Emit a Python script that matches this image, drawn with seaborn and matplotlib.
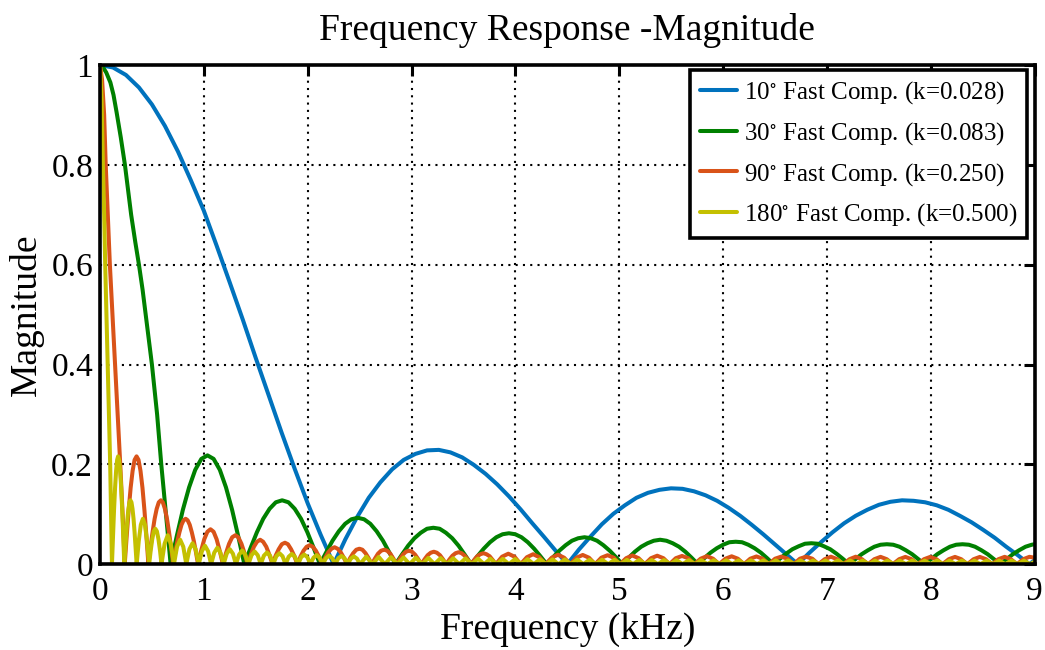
import numpy as np
import pandas as pd
import matplotlib
matplotlib.use("Agg")
import matplotlib.pyplot as plt
import seaborn as sns

# curves, (frequency kHz, magnitude)
blue_points = [
    (0.0, 1.0), (0.125, 0.995), (0.25, 0.98), (0.375, 0.955), (0.5, 0.921), (0.625, 0.878),
    (0.75, 0.827), (0.875, 0.769), (1.0, 0.708), (1.125, 0.637), (1.25, 0.564), (1.375, 0.490),
    (1.5, 0.413), (1.625, 0.338), (1.75, 0.263), (1.875, 0.191), (2.0, 0.122), (2.125, 0.059),
    (2.25, 0.0),
    (2.363, 0.050), (2.475, 0.094), (2.588, 0.133), (2.70, 0.164), (2.813, 0.190), (2.925, 0.209),
    (3.038, 0.221), (3.15, 0.228), (3.263, 0.229), (3.375, 0.224), (3.488, 0.214), (3.60, 0.199),
    (3.713, 0.181), (3.825, 0.160), (3.938, 0.136), (4.05, 0.110), (4.163, 0.082), (4.275, 0.055),
    (4.388, 0.027), (4.50, 0.0),
    (4.611, 0.029), (4.722, 0.055), (4.833, 0.080), (4.944, 0.101), (5.055, 0.118), (5.166, 0.133),
    (5.277, 0.143), (5.388, 0.149), (5.499, 0.152), (5.61, 0.151), (5.721, 0.146), (5.832, 0.138),
    (5.943, 0.127), (6.054, 0.113), (6.165, 0.097), (6.276, 0.079), (6.387, 0.060), (6.498, 0.040),
    (6.609, 0.020), (6.72, 0.0),
    (6.832, 0.023), (6.943, 0.044), (7.055, 0.064), (7.166, 0.082), (7.278, 0.097), (7.389, 0.109),
    (7.501, 0.119), (7.612, 0.125), (7.724, 0.128), (7.835, 0.127), (7.947, 0.124), (8.058, 0.118),
    (8.170, 0.109), (8.281, 0.097), (8.393, 0.084), (8.504, 0.069), (8.616, 0.053), (8.727, 0.035),
    (8.839, 0.018), (8.95, 0.0), (9.0, 0.008),
]

green_points = [
    (0.0, 1.0), (0.03, 0.995), (0.06, 0.985), (0.1, 0.965), (0.13, 0.94), (0.16, 0.905),
    (0.2, 0.855), (0.24, 0.8), (0.27, 0.75), (0.30, 0.70), (0.34, 0.645), (0.375, 0.6),
    (0.41, 0.55), (0.44, 0.5), (0.47, 0.45), (0.50, 0.4), (0.525, 0.35), (0.55, 0.3),
    (0.57, 0.25), (0.59, 0.2), (0.613, 0.15), (0.635, 0.1), (0.658, 0.05), (0.68, 0.0),
    (0.739, 0.056), (0.798, 0.109), (0.858, 0.154), (0.917, 0.189), (0.976, 0.211), (1.035, 0.218),
    (1.094, 0.211), (1.154, 0.189), (1.213, 0.154), (1.272, 0.109), (1.331, 0.056), (1.39, 0.0),
    (1.451, 0.033), (1.511, 0.064), (1.572, 0.091), (1.633, 0.111), (1.693, 0.124), (1.754, 0.128),
    (1.815, 0.124), (1.875, 0.111), (1.936, 0.091), (1.997, 0.064), (2.057, 0.033), (2.118, 0.0),
    (2.179, 0.024), (2.239, 0.047), (2.300, 0.066), (2.361, 0.081), (2.421, 0.090), (2.482, 0.093),
    (2.543, 0.090), (2.603, 0.081), (2.664, 0.066), (2.725, 0.047), (2.785, 0.024), (2.846, 0.0),
    (2.907, 0.019), (2.967, 0.037), (3.028, 0.052), (3.089, 0.063), (3.149, 0.071), (3.21, 0.073),
    (3.271, 0.071), (3.331, 0.063), (3.392, 0.052), (3.453, 0.037), (3.513, 0.019), (3.574, 0.0),
    (3.635, 0.016), (3.695, 0.031), (3.756, 0.044), (3.817, 0.054), (3.877, 0.060), (3.938, 0.062),
    (3.999, 0.060), (4.059, 0.054), (4.120, 0.044), (4.181, 0.031), (4.241, 0.016), (4.302, 0.0),
    (4.363, 0.014), (4.423, 0.027), (4.484, 0.038), (4.545, 0.047), (4.605, 0.052), (4.666, 0.054),
    (4.727, 0.052), (4.787, 0.047), (4.848, 0.038), (4.909, 0.027), (4.969, 0.014), (5.03, 0.0),
    (5.091, 0.013), (5.151, 0.025), (5.212, 0.035), (5.273, 0.042), (5.333, 0.047), (5.394, 0.049),
    (5.455, 0.047), (5.515, 0.042), (5.576, 0.035), (5.637, 0.025), (5.697, 0.013), (5.758, 0.0),
    (5.819, 0.012), (5.879, 0.023), (5.940, 0.032), (6.001, 0.039), (6.061, 0.044), (6.122, 0.045),
    (6.183, 0.044), (6.243, 0.039), (6.304, 0.032), (6.365, 0.023), (6.425, 0.012), (6.486, 0.0),
    (6.547, 0.011), (6.607, 0.021), (6.668, 0.030), (6.729, 0.036), (6.789, 0.041), (6.85, 0.042),
    (6.911, 0.041), (6.971, 0.036), (7.032, 0.030), (7.093, 0.021), (7.153, 0.011), (7.214, 0.0),
    (7.275, 0.010), (7.335, 0.020), (7.396, 0.028), (7.457, 0.035), (7.517, 0.039), (7.578, 0.040),
    (7.639, 0.039), (7.699, 0.035), (7.760, 0.028), (7.821, 0.020), (7.881, 0.010), (7.942, 0.0),
    (8.003, 0.010), (8.063, 0.020), (8.124, 0.028), (8.185, 0.035), (8.245, 0.039), (8.306, 0.040),
    (8.367, 0.039), (8.427, 0.035), (8.488, 0.028), (8.549, 0.020), (8.609, 0.010), (8.67, 0.0),
    (8.731, 0.010), (8.791, 0.020), (8.852, 0.028), (8.913, 0.035), (8.973, 0.039), (9.0, 0.040),
]

orange_points = [
    (0.0, 1.0), (0.02, 0.97), (0.04, 0.90), (0.055, 0.8), (0.075, 0.7), (0.095, 0.6),
    (0.12, 0.5), (0.145, 0.4), (0.17, 0.3), (0.195, 0.2), (0.218, 0.1),
    (0.238, 0.0), (0.257, 0.056), (0.276, 0.108), (0.295, 0.153), (0.314, 0.187), (0.333, 0.209),
    (0.352, 0.216), (0.371, 0.209), (0.390, 0.187), (0.409, 0.153), (0.428, 0.108), (0.447, 0.056),
    (0.466, 0.0), (0.486, 0.033), (0.506, 0.064), (0.526, 0.091), (0.546, 0.111), (0.566, 0.124),
    (0.586, 0.128), (0.605, 0.124), (0.625, 0.111), (0.645, 0.091), (0.665, 0.064), (0.685, 0.033),
    (0.705, 0.0), (0.725, 0.024), (0.745, 0.046), (0.765, 0.064), (0.785, 0.079), (0.805, 0.088),
    (0.825, 0.091), (0.844, 0.088), (0.864, 0.079), (0.884, 0.064), (0.904, 0.046), (0.924, 0.024),
    (0.944, 0.0), (0.974, 0.027), (1.004, 0.050), (1.034, 0.065), (1.064, 0.070), (1.094, 0.065),
    (1.123, 0.050), (1.153, 0.027),
    (1.183, 0.0), (1.213, 0.022), (1.243, 0.041), (1.273, 0.054), (1.303, 0.058), (1.332, 0.054),
    (1.362, 0.041), (1.392, 0.022),
    (1.422, 0.0), (1.452, 0.019), (1.482, 0.035), (1.512, 0.045), (1.542, 0.049), (1.571, 0.045),
    (1.601, 0.035), (1.631, 0.019),
    (1.661, 0.0), (1.691, 0.017), (1.721, 0.030), (1.751, 0.040), (1.781, 0.043), (1.810, 0.040),
    (1.840, 0.030), (1.870, 0.017),
    (1.900, 0.0), (1.930, 0.015), (1.960, 0.027), (1.990, 0.035), (2.020, 0.038), (2.049, 0.035),
    (2.079, 0.027), (2.109, 0.015),
    (2.139, 0.0), (2.169, 0.013), (2.199, 0.024), (2.229, 0.031), (2.259, 0.034), (2.288, 0.031),
    (2.318, 0.024), (2.348, 0.013),
    (2.378, 0.0), (2.408, 0.012), (2.438, 0.022), (2.468, 0.029), (2.498, 0.031), (2.527, 0.029),
    (2.557, 0.022), (2.587, 0.012),
    (2.617, 0.0), (2.647, 0.011), (2.677, 0.021), (2.707, 0.027), (2.737, 0.029), (2.766, 0.027),
    (2.796, 0.021), (2.826, 0.011),
    (2.856, 0.0), (2.886, 0.010), (2.916, 0.019), (2.946, 0.025), (2.976, 0.027), (3.005, 0.025),
    (3.035, 0.019), (3.065, 0.010),
    (3.095, 0.0), (3.125, 0.0096), (3.155, 0.018), (3.185, 0.023), (3.215, 0.025), (3.244, 0.023),
    (3.274, 0.018), (3.304, 0.0096),
    (3.334, 0.0), (3.364, 0.0092), (3.394, 0.017), (3.424, 0.022), (3.454, 0.024), (3.483, 0.022),
    (3.513, 0.017), (3.543, 0.0092),
    (3.573, 0.0), (3.603, 0.0084), (3.633, 0.016), (3.663, 0.020), (3.693, 0.022), (3.722, 0.020),
    (3.752, 0.016), (3.782, 0.0084),
    (3.812, 0.0), (3.872, 0.015), (3.932, 0.021), (3.992, 0.015),
    (4.051, 0.0), (4.111, 0.014), (4.171, 0.020), (4.231, 0.014),
    (4.290, 0.0), (4.350, 0.013), (4.410, 0.019), (4.470, 0.013),
    (4.529, 0.0), (4.589, 0.013), (4.649, 0.0185), (4.709, 0.013),
    (4.768, 0.0), (4.828, 0.013), (4.888, 0.018), (4.948, 0.013),
    (5.007, 0.0), (5.067, 0.012), (5.127, 0.0175), (5.187, 0.012),
    (5.246, 0.0), (5.306, 0.012), (5.366, 0.017), (5.426, 0.012),
    (5.485, 0.0), (5.545, 0.012), (5.605, 0.0165), (5.665, 0.012),
    (5.724, 0.0), (5.784, 0.011), (5.844, 0.016), (5.904, 0.011),
    (5.963, 0.0), (6.023, 0.011), (6.083, 0.0158), (6.143, 0.011),
    (6.202, 0.0), (6.262, 0.011), (6.322, 0.0155), (6.382, 0.011),
    (6.441, 0.0), (6.501, 0.011), (6.561, 0.0152), (6.621, 0.011),
    (6.680, 0.0), (6.740, 0.011), (6.800, 0.015), (6.860, 0.011),
    (6.919, 0.0), (6.979, 0.010), (7.039, 0.015), (7.099, 0.010),
    (7.158, 0.0), (7.218, 0.010), (7.278, 0.015), (7.338, 0.010),
    (7.397, 0.0), (7.457, 0.010), (7.517, 0.0147), (7.577, 0.010),
    (7.636, 0.0), (7.696, 0.010), (7.756, 0.0146), (7.816, 0.010),
    (7.875, 0.0), (7.935, 0.010), (7.995, 0.0146), (8.055, 0.010),
    (8.114, 0.0), (8.174, 0.010), (8.234, 0.0146), (8.294, 0.010),
    (8.353, 0.0), (8.413, 0.010), (8.473, 0.0146), (8.533, 0.010),
    (8.592, 0.0), (8.652, 0.010), (8.712, 0.0147), (8.772, 0.010),
    (8.831, 0.0), (8.891, 0.010), (8.951, 0.0148), (9.0, 0.013),
]

yellow_points = [
    (0.0, 1.0), (0.015, 0.93), (0.028, 0.8), (0.04, 0.7), (0.05, 0.6), (0.062, 0.5),
    (0.074, 0.4), (0.086, 0.3), (0.098, 0.2), (0.107, 0.1),
    (0.115, 0.0), (0.125, 0.056), (0.135, 0.108), (0.145, 0.153), (0.155, 0.187), (0.165, 0.209),
    (0.174, 0.216), (0.184, 0.209), (0.194, 0.187), (0.204, 0.153), (0.214, 0.108), (0.224, 0.056),
    (0.234, 0.0), (0.244, 0.033), (0.254, 0.064), (0.264, 0.091), (0.274, 0.111), (0.284, 0.124),
    (0.293, 0.128), (0.303, 0.124), (0.313, 0.111), (0.323, 0.091), (0.333, 0.064), (0.343, 0.033),
    (0.353, 0.0), (0.373, 0.046), (0.393, 0.079), (0.413, 0.091), (0.433, 0.079), (0.453, 0.046),
    (0.473, 0.0), (0.488, 0.027), (0.503, 0.050), (0.518, 0.066), (0.533, 0.071), (0.548, 0.066),
    (0.563, 0.050), (0.578, 0.027),
    (0.592, 0.0), (0.622, 0.041), (0.652, 0.058), (0.682, 0.041),
    (0.712, 0.0), (0.742, 0.035), (0.772, 0.049), (0.802, 0.035),
    (0.831, 0.0), (0.861, 0.030), (0.891, 0.042), (0.921, 0.030),
    (0.951, 0.0), (0.981, 0.026), (1.011, 0.037), (1.041, 0.026),
    (1.070, 0.0), (1.100, 0.023), (1.130, 0.033), (1.160, 0.023),
    (1.190, 0.0), (1.220, 0.021), (1.250, 0.030), (1.280, 0.021),
    (1.309, 0.0), (1.339, 0.019), (1.369, 0.0275), (1.399, 0.019),
    (1.429, 0.0), (1.459, 0.018), (1.489, 0.0255), (1.519, 0.018),
    (1.548, 0.0), (1.578, 0.017), (1.608, 0.0235), (1.638, 0.017),
    (1.668, 0.0), (1.698, 0.016), (1.728, 0.022), (1.758, 0.016),
    (1.787, 0.0), (1.817, 0.015), (1.847, 0.0205), (1.877, 0.015),
    (1.907, 0.0), (1.937, 0.014), (1.967, 0.0193), (1.997, 0.014),
    (2.026, 0.0), (2.056, 0.013), (2.086, 0.0182), (2.116, 0.013),
    (2.146, 0.0), (2.176, 0.012), (2.206, 0.0173), (2.236, 0.012),
    (2.265, 0.0), (2.295, 0.012), (2.325, 0.0165), (2.355, 0.012),
    (2.385, 0.0), (2.415, 0.011), (2.445, 0.0157), (2.475, 0.011),
    (2.504, 0.0), (2.564, 0.0151), (2.624, 0.0), (2.684, 0.0145),
    (2.743, 0.0), (2.803, 0.0140), (2.863, 0.0), (2.923, 0.0135),
    (2.982, 0.0), (3.042, 0.0130), (3.102, 0.0), (3.162, 0.0126),
    (3.221, 0.0), (3.281, 0.0122), (3.341, 0.0), (3.401, 0.0118),
    (3.460, 0.0), (3.520, 0.0115), (3.580, 0.0), (3.640, 0.0112),
    (3.699, 0.0), (3.759, 0.0109), (3.819, 0.0), (3.879, 0.0106),
    (3.938, 0.0), (3.998, 0.0103), (4.058, 0.0), (4.118, 0.0101),
    (4.177, 0.0), (4.237, 0.0099), (4.297, 0.0), (4.357, 0.0097),
    (4.416, 0.0), (4.476, 0.0095), (4.536, 0.0), (4.596, 0.0093),
    (4.655, 0.0), (4.715, 0.0091), (4.775, 0.0), (4.835, 0.0090),
    (4.894, 0.0), (4.954, 0.0088), (5.014, 0.0), (5.074, 0.0087),
    (5.133, 0.0), (5.193, 0.0085), (5.253, 0.0), (5.313, 0.0084),
    (5.372, 0.0), (5.432, 0.0083), (5.492, 0.0), (5.552, 0.0082),
    (5.611, 0.0), (5.671, 0.0081), (5.731, 0.0), (5.791, 0.0080),
    (5.850, 0.0), (5.910, 0.0079), (5.970, 0.0), (6.030, 0.0078),
    (6.089, 0.0), (6.149, 0.0077), (6.209, 0.0), (6.269, 0.0077),
    (6.328, 0.0), (6.388, 0.0076), (6.448, 0.0), (6.508, 0.0076),
    (6.567, 0.0), (6.627, 0.0075), (6.687, 0.0), (6.747, 0.0075),
    (6.806, 0.0), (6.866, 0.0074), (6.926, 0.0), (6.986, 0.0074),
    (7.045, 0.0), (7.105, 0.0073), (7.165, 0.0), (7.225, 0.0073),
    (7.284, 0.0), (7.344, 0.0073), (7.404, 0.0), (7.464, 0.0072),
    (7.523, 0.0), (7.583, 0.0072), (7.643, 0.0), (7.703, 0.0072),
    (7.762, 0.0), (7.822, 0.0072), (7.882, 0.0), (7.942, 0.0072),
    (8.001, 0.0), (8.061, 0.0072), (8.121, 0.0), (8.181, 0.0072),
    (8.240, 0.0), (8.300, 0.0072), (8.360, 0.0), (8.420, 0.0072),
    (8.479, 0.0), (8.539, 0.0072), (8.599, 0.0), (8.659, 0.0072),
    (8.718, 0.0), (8.778, 0.0072), (8.838, 0.0), (8.898, 0.0072),
    (8.957, 0.0), (9.0, 0.005),
]

series_names = [
    "10$^{\\circ}$ Fast Comp. (k=0.028)",
    "30$^{\\circ}$ Fast Comp. (k=0.083)",
    "90$^{\\circ}$ Fast Comp. (k=0.250)",
    "180$^{\\circ}$ Fast Comp. (k=0.500)",
]
series_points = [blue_points, green_points, orange_points, yellow_points]
colors = ["#0072bd", "#008000", "#d95319", "#c4c000"]

x_ticks = [0, 1, 2, 3, 4, 5, 6, 7, 8, 9]
y_ticks = [0, 0.2, 0.4, 0.6, 0.8, 1.0]
y_tick_labels = ["0", "0.2", "0.4", "0.6", "0.8", "1"]

rows = []
for name, pts in zip(series_names, series_points):
    for f, m in pts:
        rows.append({"series": name, "freq": f, "mag": m})
df = pd.DataFrame(rows)

sns.set_theme(style="white")
plt.rcParams["font.family"] = ["Liberation Serif", "DejaVu Serif"]
plt.rcParams["mathtext.fontset"] = "stix"
plt.rcParams["text.color"] = "black"
plt.rcParams["axes.labelcolor"] = "black"

fig = plt.figure(figsize=(10.45, 6.5), dpi=100)
ax = fig.add_axes([0.0957, 0.132, 0.8943, 0.768])

sns.lineplot(data=df, x="freq", y="mag", hue="series", hue_order=series_names,
             palette=colors, estimator=None, errorbar=None, sort=False,
             linewidth=2.9, ax=ax)

ax.set_xlim(0, 9)
ax.set_ylim(0, 1)
ax.set_xticks(x_ticks)
ax.set_xticklabels([str(t) for t in x_ticks])
ax.set_yticks(y_ticks)
ax.set_yticklabels(y_tick_labels)
ax.tick_params(direction="in", top=True, right=True, length=8, width=2.2,
               labelsize=24, colors="black")
ax.tick_params(axis="x", pad=9)
ax.tick_params(axis="y", pad=5)
for sp in ax.spines.values():
    sp.set_visible(True)
    sp.set_color("black")
    sp.set_linewidth(2.6)

ax.grid(True, color="black", linestyle=(0, (1, 2.5)), linewidth=1.5)
ax.set_axisbelow(True)

ax.set_title("Frequency Response -Magnitude", fontsize=27, pad=18, color="black")
ax.set_xlabel("Frequency (kHz)", fontsize=27, labelpad=4)
ax.set_ylabel("Magnitude", fontsize=27, labelpad=5)

old = ax.get_legend()
handles = old.legend_handles
labels = [t.get_text() for t in old.texts]
old.remove()
for h in handles:
    h.set_linewidth(2.9)
leg = ax.legend(handles, labels, loc="upper right", bbox_to_anchor=(0.9914, 0.990),
                borderaxespad=0, fontsize=18, frameon=True, fancybox=False,
                framealpha=1, edgecolor="black", handlelength=1.5,
                handletextpad=0.25, labelspacing=0.55, borderpad=0.38)
leg.get_frame().set_linewidth(2.6)

fig.savefig("out.png", dpi=100)
